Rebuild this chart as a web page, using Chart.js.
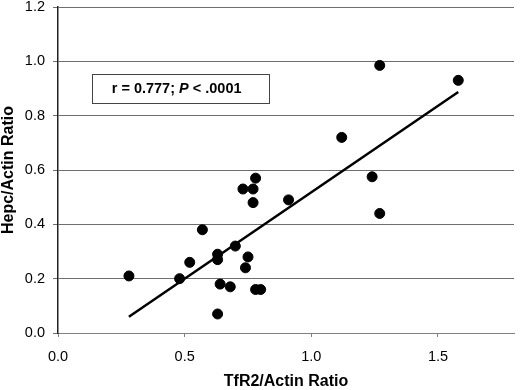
<!DOCTYPE html>
<html>
<head>
<meta charset="utf-8">
<script src="https://cdn.jsdelivr.net/npm/chart.js@4.4.1/dist/chart.umd.min.js"></script>
<style>
  html, body { margin: 0; padding: 0; background: #fff; }
  #wrap { width: 520px; height: 390px; position: relative; }
</style>
</head>
<body>
<div id="wrap"><canvas id="scatterChart"></canvas></div>
<script>
// ===== DATA =====
const tfr2Ratio = [0.28, 0.48, 0.52, 0.57, 0.63, 0.63, 0.63, 0.64, 0.68, 0.70,
                   0.73, 0.77, 0.78, 0.77, 0.75, 0.74, 0.78, 0.80, 1.27, 1.58,
                   1.12, 1.24, 0.91, 1.27];
const hepcRatio = [0.21, 0.20, 0.26, 0.38, 0.29, 0.27, 0.07, 0.18, 0.17, 0.32,
                   0.53, 0.53, 0.57, 0.48, 0.28, 0.24, 0.16, 0.16, 0.985, 0.93,
                   0.72, 0.575, 0.49, 0.44];

// regression line end points
const fitX = [0.28, 1.58];
const fitY = [0.06, 0.887];

const xTicks = [0.0, 0.5, 1.0, 1.5];
const yTicks = [0.0, 0.2, 0.4, 0.6, 0.8, 1.0, 1.2];

const statLabel = { r: "r = 0.777; ", p: "P", rest: " < .0001" };

const FONT = "'Liberation Sans', Arial, sans-serif";

// ===== STATS BOX PLUGIN =====
const statsBox = {
  id: "statsBox",
  afterDraw(chart) {
    const { ctx, scales: { x, y } } = chart;
    const left = x.getPixelForValue(0.135);
    const right = x.getPixelForValue(0.833);
    const top = y.getPixelForValue(0.955);
    const bottom = y.getPixelForValue(0.85);
    ctx.save();
    ctx.fillStyle = "#fff";
    ctx.fillRect(left, top, right - left, bottom - top);
    ctx.strokeStyle = "#444";
    ctx.lineWidth = 1;
    ctx.strokeRect(Math.round(left) + 0.5, Math.round(top) + 0.5, Math.round(right - left), Math.round(bottom - top));

    ctx.fillStyle = "#000";
    ctx.textBaseline = "middle";
    const fNorm = "bold 14.5px " + FONT;
    const fItal = "italic bold 14.5px " + FONT;
    ctx.font = fNorm;
    const w1 = ctx.measureText(statLabel.r).width;
    const w3 = ctx.measureText(statLabel.rest).width;
    ctx.font = fItal;
    const w2 = ctx.measureText(statLabel.p).width;
    let tx = (left + right) / 2 - 4 - (w1 + w2 + w3) / 2;
    const ty = (top + bottom) / 2 + 1.5;
    ctx.textAlign = "left";
    ctx.font = fNorm;
    ctx.fillText(statLabel.r, tx, ty);
    tx += w1;
    ctx.font = fItal;
    ctx.fillText(statLabel.p, tx, ty);
    tx += w2;
    ctx.font = fNorm;
    ctx.fillText(statLabel.rest, tx, ty);
    ctx.restore();
  }
};

const ctx = document.getElementById("scatterChart").getContext("2d");

new Chart(ctx, {
  type: "scatter",
  data: {
    datasets: [
      {
        label: "Samples",
        data: tfr2Ratio.map((v, i) => ({ x: v, y: hepcRatio[i] })),
        backgroundColor: "#000",
        borderColor: "#000",
        pointRadius: 5,
        pointHoverRadius: 5,
        order: 1
      },
      {
        label: "Fit",
        type: "line",
        data: fitX.map((v, i) => ({ x: v, y: fitY[i] })),
        borderColor: "#000",
        borderWidth: 2.5,
        pointRadius: 0,
        fill: false,
        tension: 0,
        order: 2
      }
    ]
  },
  options: {
    responsive: true,
    maintainAspectRatio: false,
    animation: false,
    layout: { padding: 0 },
    plugins: {
      legend: { display: false },
      tooltip: { enabled: false }
    },
    scales: {
      x: {
        type: "linear",
        min: 0,
        max: 1.8,
        afterBuildTicks: axis => { axis.ticks = xTicks.map(v => ({ value: v })); },
        afterFit: axis => { axis.height = 57; },
        grid: {
          drawOnChartArea: false,
          drawTicks: true,
          tickLength: 4,
          color: "#808080"
        },
        border: { color: "#808080", width: 1 },
        ticks: {
          color: "#000",
          font: { size: 14.5, family: FONT, lineHeight: 1 },
          padding: 12.5,
          callback: v => Number(v).toFixed(1)
        },
        title: {
          display: true,
          text: "TfR2/Actin Ratio",
          color: "#000",
          font: { size: 16, weight: "bold", family: FONT, lineHeight: 1 },
          padding: 0
        }
      },
      y: {
        type: "linear",
        min: 0,
        max: 1.2,
        afterBuildTicks: axis => { axis.ticks = yTicks.map(v => ({ value: v })); },
        afterFit: axis => { axis.width = 58; axis.paddingTop = 7; },
        grid: {
          drawOnChartArea: true,
          drawTicks: true,
          tickLength: 5,
          color: "#6e6e6e"
        },
        border: { color: "#222", width: 1.5 },
        ticks: {
          color: "#000",
          font: { size: 14.5, family: FONT, lineHeight: 1 },
          padding: 8,
          callback: v => Number(v).toFixed(1)
        },
        title: {
          display: true,
          text: "Hepc/Actin Ratio",
          color: "#000",
          font: { size: 16, weight: "bold", family: FONT, lineHeight: 1 },
          padding: { top: 1, bottom: 0 }
        }
      }
    }
  },
  plugins: [statsBox]
});
</script>
</body>
</html>
